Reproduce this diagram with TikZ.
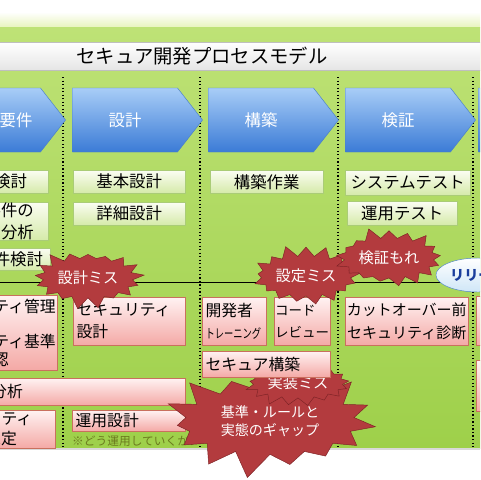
\documentclass[tikz,border=0pt]{standalone}
\usepackage{fontspec}
\setmainfont{Noto Sans CJK JP}
\usetikzlibrary{shapes.symbols, shapes.geometric}

\definecolor{bandpale}{RGB}{232,244,190}
\definecolor{bgtop}{RGB}{190,226,118}
\definecolor{bgbot}{RGB}{158,208,74}
\definecolor{chevtop}{RGB}{168,205,247}
\definecolor{chevbot}{RGB}{59,123,214}
\definecolor{chevline}{RGB}{74,128,200}
\definecolor{acttop}{RGB}{251,253,243}
\definecolor{actbot}{RGB}{213,234,169}
\definecolor{actline}{RGB}{170,204,119}
\definecolor{sectop}{RGB}{255,242,242}
\definecolor{secbot}{RGB}{244,169,166}
\definecolor{secline}{RGB}{201,112,94}
\definecolor{burstred}{RGB}{179,59,62}
\definecolor{burstdark}{RGB}{126,35,38}
\definecolor{relline}{RGB}{79,134,198}
\definecolor{reltext}{RGB}{26,61,156}
\definecolor{relfill}{RGB}{207,230,247}
\definecolor{noteolive}{RGB}{107,122,31}

\begin{document}
\begin{tikzpicture}[
    x=0.3mm, y=-0.3mm,
    wd/.code={\pgfmathsetlengthmacro\pxw{#1*0.3mm}\edef\next{\noexpand\pgfkeysalso{minimum width=\pxw}}\next},
    ht/.code={\pgfmathsetlengthmacro\pxh{#1*0.3mm}\edef\next{\noexpand\pgfkeysalso{minimum height=\pxh}}\next},
    titlebar/.style={draw=black!25, top color=white, bottom color=black!10, inner sep=0pt, font=\fontsize{16.5}{18}\selectfont},
    chevron/.style={signal, signal to=east, signal pointer angle=104, wd=130, ht=64, inner sep=0pt, draw=chevline, top color=chevtop, bottom color=chevbot, text=white, font=\fontsize{14}{16}\selectfont},
    actbox/.style={draw=actline, top color=acttop, bottom color=actbot, anchor=north west, inner sep=0pt, align=center, font=\fontsize{14}{18}\selectfont},
    secbox/.style={draw=secline, top color=sectop, bottom color=secbot, anchor=north west, inner xsep=1mm, inner ysep=0pt, align=left, font=\fontsize{13.5}{19}\selectfont},
    burst/.style={starburst, starburst points=17, fill=burstred, draw=burstdark, text=white, inner xsep=1pt, inner ysep=6pt, starburst point height=3.6mm, font=\fontsize{13}{15}\selectfont},
    divider/.style={dotted, line width=1pt}
]

% --- background ---
\useasboundingbox (0,0) rectangle (480,480);
\clip (0,0) rectangle (480,480);
\fill[white] (0,0) rectangle (480,480);
\shade[top color=white, bottom color=bandpale] (0,12) rectangle (480,27);
\shade[top color=bgtop, bottom color=bgbot] (0,27) rectangle (480,448);
\fill[black!15] (0,448) rectangle (480,450);

% --- title ---
\node[titlebar, wd=560, ht=28] (title) at (202,56) {セキュア開発プロセスモデル};

% --- columns ---
\foreach \x in {63,200,338,473}
    \draw[divider] (\x,77) -- (\x,448);
\draw[thin] (0,282) -- (470,282);

% --- phases ---
\node[chevron] (req) at (-12,120) {};
\node[text=white, font=\fontsize{14}{16}\selectfont] (reqtext) at (16,120) {要件};
\node[chevron] (des) at (125,120) {設計};
\node[chevron] (con) at (261,120) {構築};
\node[chevron] (ver) at (398,120) {検証};
\node[chevron] (ops) at (531,120) {};

% --- process tasks ---
\node[actbox, wd=108, ht=23] (reqa) at (-60,170) {要求検討};
\node[actbox, wd=78, ht=38, align=right, font=\fontsize{14}{19}\selectfont] (reqb) at (-30,202) {要件の\\分析};
\node[actbox, wd=80, ht=22] (reqc) at (-30,248) {要件検討};
\node[actbox, wd=112, ht=23] (desa) at (73,170) {基本設計};
\node[actbox, wd=112, ht=23] (desb) at (73,202) {詳細設計};
\node[actbox, wd=113, ht=23] (cona) at (210,170) {構築作業};
\node[actbox, wd=125, ht=25] (vera) at (345,170) {システムテスト};
\node[actbox, wd=110, ht=24] (verb) at (347,201) {運用テスト};

% --- security tasks ---
\node[secbox, anchor=north east, ht=75, inner xsep=0.3mm, align=center, font=\fontsize{13.5}{15}\selectfont] (secmgmt) at (57,295) {セキュリティ管理\\[15pt]セキュリティ基準\\確認};
\node[secbox, ht=27, text width=66.7mm] (threat) at (-44,378) {脅威分析};
\node[secbox, wd=140, ht=38, align=center, font=\fontsize{13.5}{17}\selectfont] (secrule) at (-85,410) {セキュリティ\\方針策定};
\node[secbox, ht=48, text width=31.6mm] (secdes) at (73,297) {セキュリティ\\設計};
\node[secbox, ht=21, text width=31.9mm] (opsdes) at (72,410) {運用設計};
\node[anchor=west, inner sep=0pt, text=noteolive, font=\fontsize{10}{12}\selectfont] (note) at (72,441) {※どう運用していくか?};
\node[secbox, wd=123, ht=48, inner xsep=0.3mm, align=center, font=\fontsize{12.8}{19}\selectfont] (audit) at (345,297) {カットオーバー前\\セキュリティ診断};
\node[secbox, wd=84, ht=49] (opsa) at (476,296) {};
\node[secbox, wd=84, ht=51] (opsb) at (476,360) {};

% --- risks ---
\node[burst, random starburst=21, starburst points=15, starburst point height=8mm, inner xsep=9pt, inner ysep=7pt, align=center, font=\fontsize{12}{15}\selectfont] (gap) at (270,421) {基準・ルールと\\実態のギャップ};
\node[burst, random starburst=7, starburst point height=3mm, inner ysep=3pt] (implmiss) at (298,383) {実装ミス};

% --- construction tasks ---
\node[secbox, ht=48, text width=17.2mm] (train) at (202,297) {開発者\\{\fontsize{11}{13}\selectfont\scalebox{0.72}[1]{トレーニング}}};
\node[secbox, ht=48, inner xsep=0.3mm, text width=16.2mm, font=\fontsize{11.5}{19}\selectfont] (review) at (274,297) {コード\\レビュー};
\node[secbox, ht=26, text width=36.4mm] (secbuild) at (202,351) {セキュア構築};

% --- more risks ---
\node[burst, random starburst=3] (desmiss) at (88,278) {設計ミス};
\node[burst, random starburst=11] (setmiss) at (306,276) {設定ミス};
\node[burst, random starburst=5] (vermiss) at (389,258) {検証もれ};

% --- release ---
\node[ellipse, draw=relline, top color=white, bottom color=relfill, wd=84, ht=34, inner sep=0pt, text=reltext, font=\bfseries\fontsize{12}{14}\selectfont] (release) at (478,275) {リリース};

\end{tikzpicture}
\end{document}
